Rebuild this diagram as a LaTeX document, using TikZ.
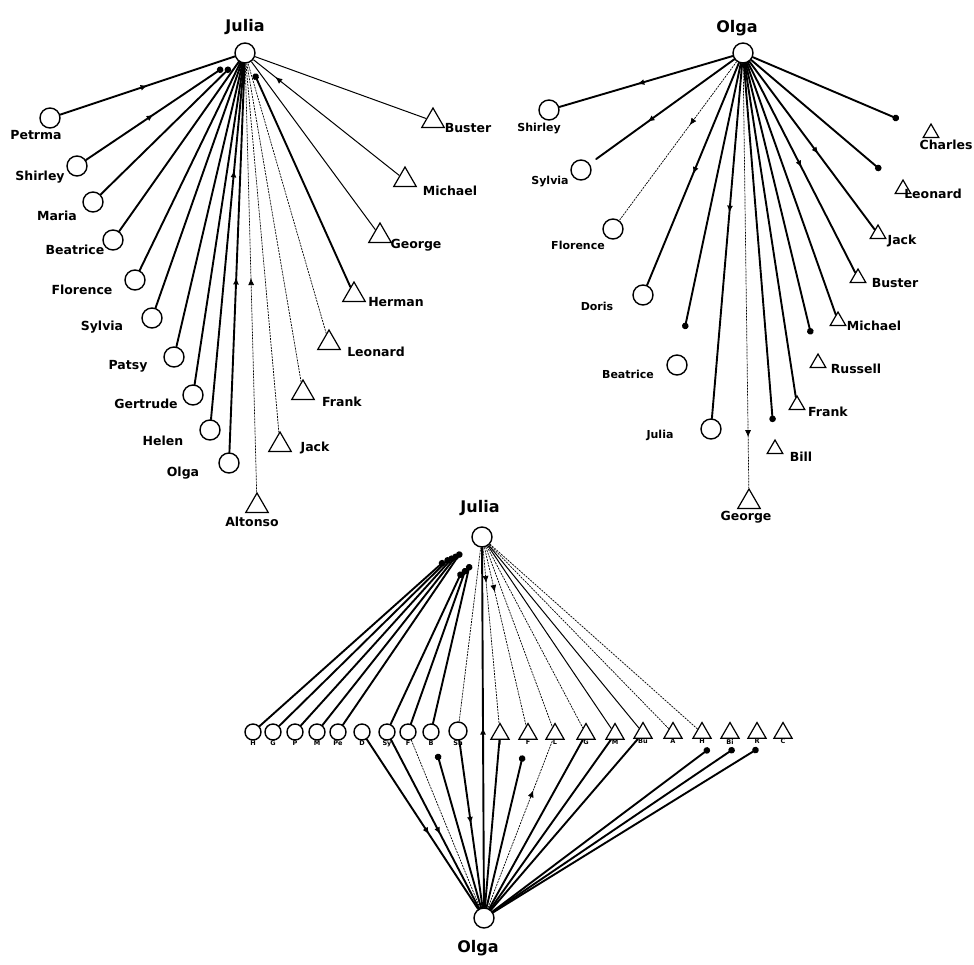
\documentclass[tikz,border=0pt]{standalone}
\usepackage{fontspec}
\setmainfont{DejaVu Sans}
\usetikzlibrary{shapes.geometric, arrows.meta, decorations.markings}
\tikzset{
girl/.style={circle, draw, line width=1.4pt, minimum size=20pt, inner sep=0pt}, % a girl is a circle
boy/.style={regular polygon, regular polygon sides=3, draw, line width=1.2pt, minimum size=26pt, inner sep=0pt}, % a boy is a triangle
tie/.style={line width=1.9pt, line cap=round}, % strong choice
loose/.style={line width=0.7pt, dash pattern=on 2pt off 1pt}, % weak choice
plain/.style={line width=1pt},
dotend/.style={-{Circle[length=6.5pt]}},
mid/.style={postaction={decorate}, decoration={markings, mark=at position #1 with {\arrow{Latex[length=7pt, width=6pt]}}}},
who/.style={font=\bfseries\fontsize{12.5}{14}\selectfont, inner sep=0pt},
whosmall/.style={font=\bfseries\fontsize{11}{13}\selectfont, inner sep=0pt},
hub name/.style={font=\bfseries\fontsize{16}{18}\selectfont, inner sep=0pt},
inits/.style={font=\bfseries\fontsize{6.5}{7}\selectfont, inner sep=0pt},
}
\begin{document}
\begin{tikzpicture}[x=1pt, y=-1pt]
    \useasboundingbox (0,0) rectangle (974,964);

    % Julia's choices
    \node[hub name] (jt) at (245,27) {Julia};
    \node[girl] (ja) at (245,53) {};
    \node[girl] (jpe) at (50,118) {};
    \node[girl] (jsh) at (77,166) {};
    \node[girl] (jma) at (93,202) {};
    \node[girl] (jbe) at (113,240) {};
    \node[girl] (jfl) at (135,280) {};
    \node[girl] (jsy) at (152,318) {};
    \node[girl] (jpa) at (174,357) {};
    \node[girl] (jge) at (193,395) {};
    \node[girl] (jhe) at (210,430) {};
    \node[girl] (jol) at (229,463) {};
    \node[boy] (jal) at (257,506) {};
    \node[boy] (jja) at (280,445) {};
    \node[boy] (jfr) at (303,393) {};
    \node[boy] (jle) at (329,343) {};
    \node[boy] (jhm) at (354,295) {};
    \node[boy] (jgo) at (380,236) {};
    \node[boy] (jmi) at (405,180) {};
    \node[boy] (jbu) at (433,121) {};

    \node[who] (jpet) at (36,135) {Petrma};
    \node[who] (jsht) at (40,177) {Shirley};
    \node[who] (jmat) at (57,216) {Maria};
    \node[who] (jbet) at (75,250) {Beatrice};
    \node[who] (jflt) at (82,290) {Florence};
    \node[who] (jsyt) at (102,327) {Sylvia};
    \node[who] (jpat) at (128,366) {Patsy};
    \node[who] (jget) at (146,404) {Gertrude};
    \node[who] (jhet) at (163,441) {Helen};
    \node[who] (jolt) at (183,473) {Olga};
    \node[who] (jalt) at (252,522) {Altonso};
    \node[who] (jjat) at (315,448) {Jack};
    \node[who] (jfrt) at (342,402) {Frank};
    \node[who] (jlet) at (376,352) {Leonard};
    \node[who] (jhmt) at (396,302) {Herman};
    \node[who] (jgot) at (416,245) {George};
    \node[who] (jmit) at (450,191) {Michael};
    \node[who] (jbut) at (468,128) {Buster};

    \draw[tie, mid=0.5] (jpe) -- (ja);
    \draw[tie, mid=0.45, dotend, shorten >=16pt] (jsh) -- (ja);
    \draw[tie, dotend, shorten >=10pt] (jma) -- (ja);
    \draw[tie] (jbe) -- (ja);
    \draw[tie] (jfl) -- (ja);
    \draw[tie] (jsy) -- (ja);
    \draw[tie] (jpa) -- (ja);
    \draw[tie] (jge) -- (ja);
    \draw[tie, mid=0.7] (jhe) -- (ja);
    \draw[tie, mid=0.45] (jol) -- (ja);
    \draw[loose, mid=0.5] (jal) -- (ja);
    \draw[loose] (jja) -- (ja);
    \draw[loose] (jfr) -- (ja);
    \draw[loose] (jle) -- (ja);
    \draw[tie, dotend, shorten >=12pt] (jhm) -- (ja);
    \draw[plain] (jgo) -- (ja);
    \draw[plain, mid=0.85] (jmi) -- (ja);
    \draw[plain] (jbu) -- (ja);

    % Olga's choices
    \node[hub name] (ot) at (737,28) {Olga};
    \node[girl] (oa) at (743,53) {};
    \node[girl] (osh) at (549,110) {};
    \node[girl] (osy) at (581,170) {};
    \node[girl] (ofl) at (613,229) {};
    \node[girl] (odo) at (643,295) {};
    \node[girl] (obe) at (677,365) {};
    \node[girl] (oju) at (711,429) {};
    \node[boy] (oge) at (749,502) {};
    \node[boy, minimum size=18pt] (obi) at (775,449) {};
    \node[boy, minimum size=18pt] (ofr) at (797,405) {};
    \node[boy, minimum size=18pt] (oru) at (818,363) {};
    \node[boy, minimum size=18pt] (omi) at (838,321) {};
    \node[boy, minimum size=18pt] (obu) at (858,278) {};
    \node[boy, minimum size=18pt] (oja) at (878,234) {};
    \node[boy, minimum size=18pt] (ole) at (903,189) {};
    \node[boy, minimum size=18pt] (och) at (931,133) {};

    \node[whosmall] (osht) at (539,129) {Shirley};
    \node[whosmall] (osyt) at (550,182) {Sylvia};
    \node[whosmall] (oflt) at (578,245) {Florence};
    \node[whosmall] (odot) at (597,306) {Doris};
    \node[whosmall] (obet) at (628,374) {Beatrice};
    \node[whosmall] (ojut) at (660,435) {Julia};
    \node[who] (oget) at (746,517) {George};
    \node[who] (obit) at (801,457) {Bill};
    \node[who] (ofrt) at (828,412) {Frank};
    \node[who] (orut) at (856,369) {Russell};
    \node[who] (omit) at (874,326) {Michael};
    \node[who] (obut) at (895,283) {Buster};
    \node[who] (ojat) at (902,241) {Jack};
    \node[who] (olet) at (933,194) {Leonard};
    \node[who] (ocht) at (946,145) {Charles};

    \draw[tie, mid=0.55] (oa) -- (osh);
    \draw[tie, mid=0.6, shorten >=8pt] (oa) -- (osy);
    \draw[loose, mid=0.4] (oa) -- (ofl);
    \draw[tie, mid=0.5] (oa) -- (odo);
    \draw[tie, dotend, shorten >=26pt] (oa) -- (obe);
    \draw[tie, mid=0.42] (oa) -- (oju);
    \draw[loose, mid=0.88] (oa) -- (oge);
    \draw[tie, dotend, shorten >=18pt] (oa) -- (obi);
    \draw[tie] (oa) -- (ofr);
    \draw[tie, dotend, shorten >=22pt] (oa) -- (oru);
    \draw[tie] (oa) -- (omi);
    \draw[tie, mid=0.5] (oa) -- (obu);
    \draw[tie, mid=0.55] (oa) -- (oja);
    \draw[tie, dotend, shorten >=24pt] (oa) -- (ole);
    \draw[tie, dotend, shorten >=30pt] (oa) -- (och);

    % both together
    \node[hub name] (bjt) at (480,508) {Julia};
    \node[girl] (bj) at (482,537) {};
    \node[hub name] (bot) at (478,948) {Olga};
    \node[girl] (bo) at (484,918) {};

    \node[girl, minimum size=16pt, label={[inits]below:H}] (g1) at (253,732) {};
    \node[girl, minimum size=16pt, label={[inits]below:G}] (g2) at (273,732) {};
    \node[girl, minimum size=16pt, label={[inits]below:P}] (g3) at (295,732) {};
    \node[girl, minimum size=16pt, label={[inits]below:M}] (g4) at (317,732) {};
    \node[girl, minimum size=16pt, label={[inits]below:Pe}] (g5) at (338,732) {};
    \node[girl, minimum size=16pt, label={[inits]below:D}] (g6) at (362,732) {};
    \node[girl, minimum size=16pt, label={[inits]below:Sy}] (g7) at (387,732) {};
    \node[girl, minimum size=16pt, label={[inits]below:F}] (g8) at (408,732) {};
    \node[girl, minimum size=16pt, label={[inits]below:B}] (g9) at (431,732) {};
    \node[girl, minimum size=18pt, label={[inits]below:Sh}] (g10) at (458,731) {};
    \node[boy, minimum size=21pt, label={[inits]below:J}] (b1) at (500,734) {};
    \node[boy, minimum size=21pt, label={[inits]below:F}] (b2) at (528,734) {};
    \node[boy, minimum size=21pt, label={[inits]below:L}] (b3) at (555,734) {};
    \node[boy, minimum size=21pt, label={[inits]below:G}] (b4) at (586,734) {};
    \node[boy, minimum size=21pt, label={[inits]below:M}] (b5) at (615,734) {};
    \node[boy, minimum size=21pt, label={[inits]below:Bu}] (b6) at (643,733) {};
    \node[boy, minimum size=21pt, label={[inits]below:A}] (b7) at (673,733) {};
    \node[boy, minimum size=21pt, label={[inits]below:H}] (b8) at (702,733) {};
    \node[boy, minimum size=21pt, label={[inits]below:Bi}] (b9) at (730,733) {};
    \node[boy, minimum size=21pt, label={[inits]below:R}] (b10) at (757,733) {};
    \node[boy, minimum size=21pt, label={[inits]below:C}] (b11) at (783,733) {};

    \draw[tie, dotend, shorten >=36pt] (g1) -- (bj.west);
    \draw[tie, dotend, shorten >=30pt] (g2) -- (bj.west);
    \draw[tie, dotend, shorten >=26pt] (g3) -- (bj.west);
    \draw[tie, dotend, shorten >=22pt] (g4) -- (bj.west);
    \draw[tie, dotend, shorten >=18pt] (g5) -- (bj.west);
    \draw[tie, dotend, shorten >=30pt] (g7) -- (bj.south west);
    \draw[tie, dotend, shorten >=25pt] (g8) -- (bj.south west);
    \draw[tie, dotend, shorten >=20pt] (g9) -- (bj.south west);
    \draw[loose] (g10) -- (bj);
    \draw[tie, mid=0.5] (bo) -- (bj);
    \draw[loose, mid=0.2] (bj) -- (b1);
    \draw[loose, mid=0.25] (bj) -- (b2);
    \draw[loose] (bj) -- (b3);
    \draw[loose] (bj) -- (b4);
    \draw[plain] (bj) -- (b5);
    \draw[plain] (bj) -- (b6);
    \draw[loose] (bj) -- (b7);
    \draw[loose] (bj) -- (b8);

    \draw[tie, mid=0.56] (g6) -- (bo);
    \draw[tie, mid=0.56] (g7) -- (bo);
    \draw[loose] (g8) -- (bo);
    \draw[tie, dotend, shorten >=14pt] (bo) -- (g9);
    \draw[tie, mid=0.5] (g10) -- (bo);
    \draw[tie] (bo) -- (b1);
    \draw[tie, dotend, shorten >=16pt] (bo) -- (b2);
    \draw[loose, mid=0.7] (bo) -- (b3);
    \draw[tie] (bo) -- (b4);
    \draw[tie] (bo) -- (b5);
    \draw[tie] (bo) -- (b6);
    \draw[tie, dotend, shorten >=16pt] (bo) -- (b9);
    \draw[tie, dotend, shorten >=17pt] (bo) -- (b10);
    \draw[tie, dotend, shorten >=18pt] (bo) -- (b11);
\end{tikzpicture}
\end{document}
